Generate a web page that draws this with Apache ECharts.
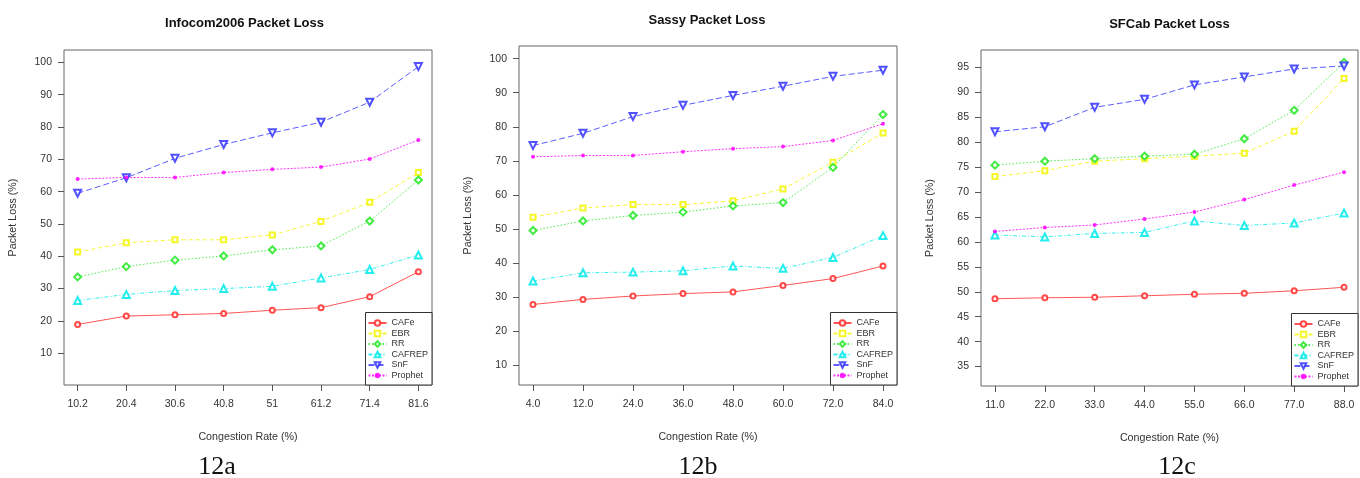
<!DOCTYPE html>
<html>
<head>
<meta charset="utf-8">
<script src="https://cdn.jsdelivr.net/npm/echarts@6/dist/echarts.min.js"></script>
<style>
  html, body { margin: 0; padding: 0; background: #fff; }
  .panel { position: absolute; top: 0; height: 478px; }
</style>
</head>
<body>
<div id="chartA" class="panel" style="left:0;width:455px"></div>
<div id="chartB" class="panel" style="left:455px;width:455px"></div>
<div id="chartC" class="panel" style="left:910px;width:450px"></div>
<script>
// series names (legend order)
const seriesNames = ['CAFe', 'EBR', 'RR', 'CAFREP', 'SnF', 'Prophet'];

// Infocom2006
const infocomRates = ['10.2', '20.4', '30.6', '40.8', '51', '61.2', '71.4', '81.6'];
const infocomTicks = [10, 20, 30, 40, 50, 60, 70, 80, 90, 100];
const infocomCAFe = [18.9, 21.5, 21.9, 22.3, 23.3, 24.1, 27.5, 35.2];
const infocomEBR = [41.3, 44.2, 45.1, 45.1, 46.6, 50.8, 56.7, 65.9];
const infocomRR = [33.6, 36.8, 38.8, 40.1, 42.0, 43.2, 50.9, 63.6];
const infocomCAFREP = [26.3, 28.2, 29.4, 30.0, 30.7, 33.3, 35.9, 40.4];
const infocomSnF = [59.5, 64.3, 70.3, 74.6, 78.2, 81.5, 87.7, 98.7];
const infocomProphet = [63.9, 64.4, 64.4, 65.9, 66.9, 67.6, 70.1, 76.0];

// Sassy
const sassyRates = ['4.0', '12.0', '24.0', '36.0', '48.0', '60.0', '72.0', '84.0'];
const sassyTicks = [10, 20, 30, 40, 50, 60, 70, 80, 90, 100];
const sassyCAFe = [27.9, 29.4, 30.4, 31.1, 31.6, 33.5, 35.5, 39.2];
const sassyEBR = [53.5, 56.2, 57.2, 57.2, 58.3, 61.8, 69.6, 78.2];
const sassyRR = [49.6, 52.4, 54.0, 55.0, 56.8, 57.8, 68.1, 83.6];
const sassyCAFREP = [34.8, 37.2, 37.4, 37.8, 39.2, 38.5, 41.7, 48.1];
const sassySnF = [74.5, 78.1, 83.0, 86.3, 89.2, 91.9, 94.8, 96.6];
const sassyProphet = [71.2, 71.6, 71.6, 72.7, 73.6, 74.2, 76.0, 80.9];

// SFCab
const sfcabRates = ['11.0', '22.0', '33.0', '44.0', '55.0', '66.0', '77.0', '88.0'];
const sfcabTicks = [35, 40, 45, 50, 55, 60, 65, 70, 75, 80, 85, 90, 95];
const sfcabCAFe = [48.6, 48.8, 48.9, 49.2, 49.5, 49.7, 50.2, 50.9];
const sfcabEBR = [73.1, 74.3, 76.2, 76.7, 77.2, 77.8, 82.2, 92.8];
const sfcabRR = [75.4, 76.2, 76.7, 77.2, 77.6, 80.7, 86.4, 96.0];
const sfcabCAFREP = [61.4, 61.0, 61.7, 61.9, 64.2, 63.3, 63.8, 65.8];
const sfcabSnF = [82.1, 83.1, 87.0, 88.6, 91.5, 93.1, 94.7, 95.3];
const sfcabProphet = [62.1, 62.9, 63.4, 64.6, 66.0, 68.5, 71.4, 74.0];

// series look
const seriesStyles = [
  { color: '#ff2a2a', dash: 'solid', symbol: 'emptyCircle', size: 5, rotate: 0 },
  { color: '#f5f500', dash: [4, 3], symbol: 'emptyRect', size: 5, rotate: 0 },
  { color: '#22e822', dash: [1.5, 2], symbol: 'emptyDiamond', size: 7, rotate: 0 },
  { color: '#00eaea', dash: [4, 2, 1, 2], symbol: 'emptyTriangle', size: 7, rotate: 0 },
  { color: '#3333ff', dash: [6, 3], symbol: 'emptyTriangle', size: 7, rotate: 180 },
  { color: '#ff00ff', dash: [2, 1.5], symbol: 'circle', size: 4, rotate: 0 },
];

const FONT = 'Liberation Sans, Arial, sans-serif';

function buildChart(dom, cfg) {
  const chart = echarts.init(dom);
  const g = cfg.grid;
  const W = dom.clientWidth;
  const H = dom.clientHeight;
  const series = seriesNames.map((name, k) => {
    const st = seriesStyles[k];
    return {
      name: name,
      type: 'line',
      data: cfg.values[k].map((v, i) => [i + 1, v]),
      symbol: st.symbol,
      symbolSize: st.size,
      symbolRotate: st.rotate,
      itemStyle: { color: st.color, borderWidth: 0.8, opacity: 0.85 },
      lineStyle: { color: st.color, width: 1, type: st.dash, opacity: 0.8 },
      emphasis: { disabled: true },
      animation: false,
    };
  });

  const option = {
    animation: false,
    grid: {
      left: g.left, top: g.top, width: g.width, height: g.height,
      show: true, borderColor: '#666', borderWidth: 1,
    },
    xAxis: {
      type: 'value',
      min: 0.72,
      max: 8.28,
      name: 'Congestion Rate (%)',
      nameLocation: 'middle',
      nameGap: 47,
      nameTextStyle: { fontFamily: FONT, fontSize: 10.7, color: '#333' },
      axisLine: { show: false },
      splitLine: { show: false },
      axisTick: {
        customValues: cfg.rates.map((r, i) => i + 1),
        length: 6, lineStyle: { color: '#555' },
      },
      axisLabel: {
        customValues: cfg.rates.map((r, i) => i + 1),
        formatter: (v) => cfg.rates[Math.round(v) - 1],
        fontFamily: FONT, fontSize: 10.5, color: '#333', margin: 14,
      },
    },
    yAxis: {
      type: 'value',
      min: cfg.yMin,
      max: cfg.yMax,
      name: 'Packet Loss (%)',
      nameLocation: 'middle',
      nameRotate: 90,
      nameGap: 45,
      nameTextStyle: { fontFamily: FONT, fontSize: 10.7, color: '#333' },
      axisLine: { show: false },
      splitLine: { show: false },
      axisTick: { customValues: cfg.ticks, length: 6, lineStyle: { color: '#555' } },
      axisLabel: {
        customValues: cfg.ticks,
        fontFamily: FONT, fontSize: 10.5, color: '#333', margin: 12,
      },
    },
    legend: {
      data: seriesNames,
      orient: 'vertical',
      right: W - (g.left + g.width),
      bottom: H - (g.top + g.height),
      itemWidth: 18,
      itemHeight: 7,
      itemGap: 1.5,
      padding: [6, 4, 5, 2],
      backgroundColor: '#fff',
      borderColor: '#333',
      borderWidth: 1,
      borderRadius: 0,
      selectedMode: false,
      textStyle: { fontFamily: FONT, fontSize: 9, color: '#333', lineHeight: 9 },
    },
    graphic: [
      {
        type: 'text',
        x: g.left + g.width / 2,
        y: cfg.titleY,
        style: {
          text: cfg.title, align: 'center', verticalAlign: 'middle',
          font: 'bold 13px ' + FONT, fill: '#111',
        },
      },
      {
        type: 'text',
        x: cfg.captionX,
        y: 467,
        style: {
          text: cfg.caption, align: 'center', verticalAlign: 'middle',
          font: '26px Liberation Serif, Times New Roman, serif', fill: '#111',
        },
      },
    ],
    series: series,
  };
  chart.setOption(option);
  return chart;
}

buildChart(document.getElementById('chartA'), {
  title: 'Infocom2006 Packet Loss', titleY: 23,
  caption: '12a', captionX: 217,
  grid: { left: 57, top: 50, width: 375, height: 335 },
  yMin: 0.16, yMax: 103.84,
  rates: infocomRates, ticks: infocomTicks,
  values: [infocomCAFe, infocomEBR, infocomRR, infocomCAFREP, infocomSnF, infocomProphet],
});

buildChart(document.getElementById('chartB'), {
  title: 'Sassy Packet Loss', titleY: 20,
  caption: '12b', captionX: 243,
  grid: { left: 62, top: 46, width: 380, height: 339 },
  yMin: 4.3, yMax: 103.7,
  rates: sassyRates, ticks: sassyTicks,
  values: [sassyCAFe, sassyEBR, sassyRR, sassyCAFREP, sassySnF, sassyProphet],
});

buildChart(document.getElementById('chartC'), {
  title: 'SFCab Packet Loss', titleY: 24,
  caption: '12c', captionX: 267,
  grid: { left: 71, top: 50, width: 377, height: 336 },
  yMin: 31.1, yMax: 98.5,
  rates: sfcabRates, ticks: sfcabTicks,
  values: [sfcabCAFe, sfcabEBR, sfcabRR, sfcabCAFREP, sfcabSnF, sfcabProphet],
});
</script>
</body>
</html>
